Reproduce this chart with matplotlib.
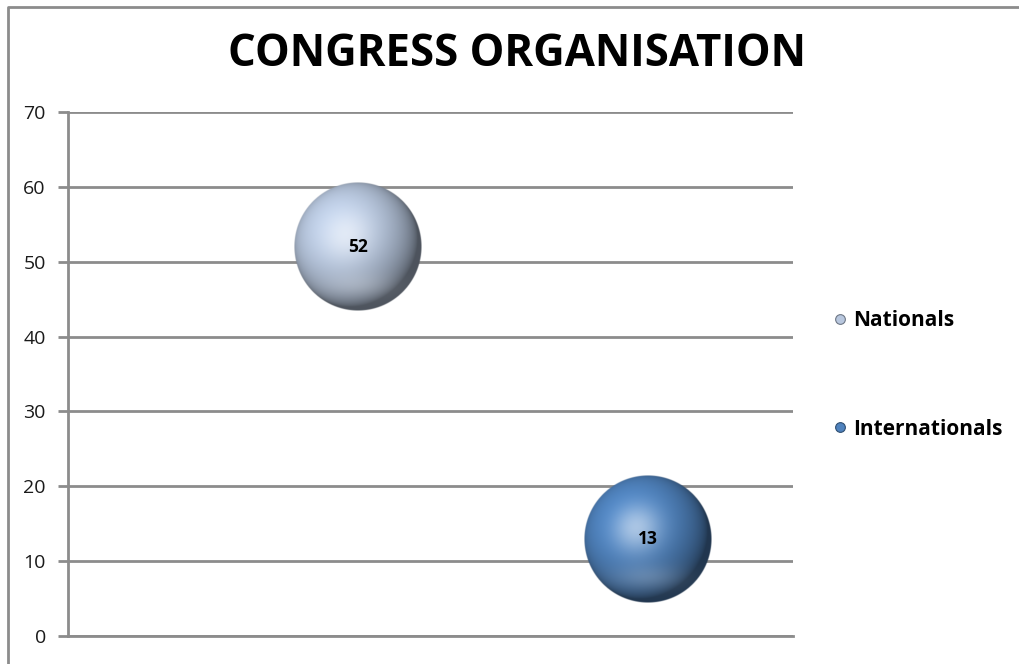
import numpy as np
import matplotlib
matplotlib.use("Agg")
import matplotlib.pyplot as plt
from matplotlib.lines import Line2D

# data
series = ["Nationals", "Internationals"]
x_vals = [1, 2]
y_vals = [52, 13]
bubble_size = [1, 1]
base_colors = [(0.72, 0.78, 0.87), (0.31, 0.51, 0.74)]
yticks = [0, 10, 20, 30, 40, 50, 60, 70]

plt.rcParams['font.family'] = ['Open Sans', 'DejaVu Sans']

W, H = 1019, 664
fig = plt.figure(figsize=(W / 100, H / 100), dpi=100)
ax = fig.add_axes([68 / W, 1 - 636 / H, (793 - 68) / W, (636 - 112) / H])

ax.set_xlim(0, 2.5)
ax.set_ylim(0, 70)
ax.set_yticks(yticks)
ax.set_xticks([])
ax.yaxis.grid(True, color='#8c8c8c', lw=2)
ax.set_axisbelow(True)
for s in ['top', 'right']:
    ax.spines[s].set_visible(False)
for s in ['left', 'bottom']:
    ax.spines[s].set_color('#8c8c8c')
    ax.spines[s].set_linewidth(2)
ax.tick_params(axis='y', length=7, width=2, color='#8c8c8c', labelsize=14,
               labelcolor='#1a1a1a', pad=9)


def sphere(base, n=256):
    # shaded sphere image, light from upper left front
    u, v = np.meshgrid(np.linspace(-1, 1, n), np.linspace(1, -1, n))
    r2 = u ** 2 + v ** 2
    inside = r2 <= 1
    z = np.sqrt(np.clip(1 - r2, 0, 1))
    L = np.array([-0.35, 0.35, 0.87])
    L = L / np.linalg.norm(L)
    diff = np.clip(u * L[0] + v * L[1] + z * L[2], 0, 1)
    Hh = L + np.array([0, 0, 1.0])
    Hh = Hh / np.linalg.norm(Hh)
    spec = np.clip(u * Hh[0] + v * Hh[1] + z * Hh[2], 0, 1) ** 14
    # soft reflection near the bottom
    refl = np.exp(-((u + 0.0) ** 2 / 0.3 + (v + 0.6) ** 2 / 0.04)) * 0.18
    base = np.array(base)
    img = base[None, None, :] * (0.42 + 0.66 * diff[..., None] ** 0.8)
    img = img + (0.5 * spec + refl)[..., None] * (1 - img)
    img = np.clip(img, 0, 1)
    alpha = np.clip((1 - np.sqrt(r2)) * n / 2, 0, 1)
    out = np.dstack([img, alpha * inside])
    return out


radius_px = 64
inv = ax.transData.inverted()
for xv, yv, sz, c in zip(x_vals, y_vals, bubble_size, base_colors):
    cx, cy = ax.transData.transform((xv, yv))
    r = radius_px * np.sqrt(sz)
    x0, y0 = inv.transform((cx - r, cy - r))
    x1, y1 = inv.transform((cx + r, cy + r))
    ax.imshow(sphere(c), extent=(x0, x1, y0, y1), aspect='auto',
              interpolation='bilinear', zorder=3)
    ax.text(xv, yv, str(yv), ha='center', va='center', fontsize=12.5,
            fontweight='bold', color='black', zorder=4)
ax.set_xlim(0, 2.5)
ax.set_ylim(0, 70)

handles = [Line2D([], [], ls='none', marker='o', markersize=7,
                  markerfacecolor=c, markeredgecolor=tuple(np.array(c) * 0.6),
                  markeredgewidth=0.8) for c in base_colors]
fig.legend(handles, series, loc='center left', bbox_to_anchor=(809 / W, 1 - 375 / H),
           frameon=False, handletextpad=0.0, labelspacing=4.2, handlelength=1.2,
           prop={'family': ['Open Sans'], 'weight': 'bold', 'size': 15})

fig.text(517 / W, 1 - 54 / H, "CONGRESS ORGANISATION", ha='center', va='center',
         fontsize=31.5, fontweight='bold', color='black')

# outer chart frame (only left and top edges visible)
fig.add_artist(Line2D([8 / W, 8 / W, 1.0], [0.0, 1 - 7 / H, 1 - 7 / H],
                      transform=fig.transFigure, color='#8c8c8c', lw=2))

fig.savefig("out.png", dpi=100)
